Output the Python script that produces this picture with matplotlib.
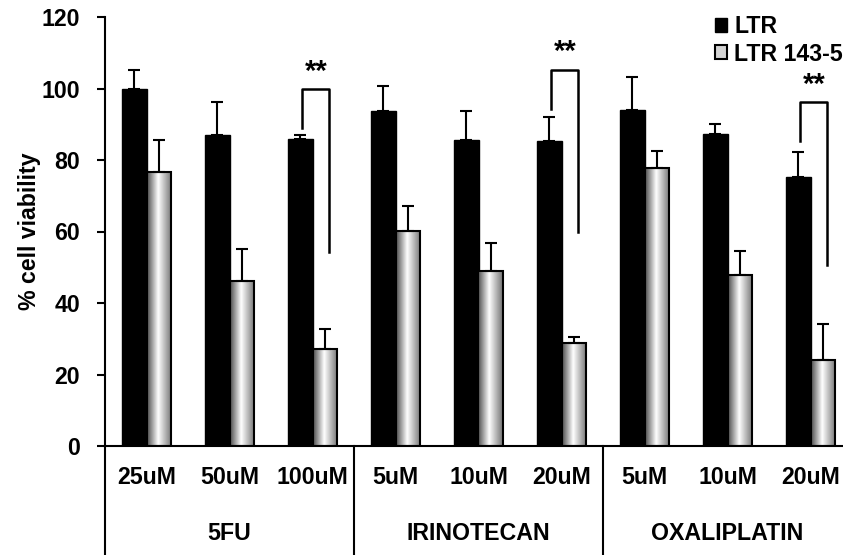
import numpy as np
import matplotlib
matplotlib.use('Agg')
import matplotlib.pyplot as plt
from matplotlib.patches import Patch
from matplotlib.colors import LinearSegmentedColormap

plt.rcParams['font.family'] = ['Liberation Sans', 'DejaVu Sans']
plt.rcParams['font.weight'] = 'bold'

# dados
doses = ['25uM', '50uM', '100uM', '5uM', '10uM', '20uM', '5uM', '10uM', '20uM']
drogas = ['5FU', 'IRINOTECAN', 'OXALIPLATIN']
ltr = [99.9, 87.0, 85.8, 93.7, 85.6, 85.3, 94.0, 87.3, 75.3]
ltr_err = [5.3, 9.3, 1.1, 7.0, 8.2, 6.6, 9.1, 2.8, 6.9]
ltr143 = [76.7, 46.2, 27.0, 60.1, 49.0, 28.7, 77.7, 47.8, 24.1]
ltr143_err = [8.9, 8.9, 5.6, 7.1, 7.9, 1.9, 4.9, 6.8, 9.9]

# colchetes de significancia: (indice, topo, perna esquerda, perna direita)
sig_idx = [2, 5, 8]
sig_top = [99.8, 105.2, 96.1]
sig_left = [88.9, 94.3, 85.3]
sig_right = [54.2, 59.8, 50.6]

fs = 16.7
fig = plt.figure(figsize=(8.43, 5.55), dpi=100)
W, H = 843, 555
x0, y_top, y_zero = 105, 17, 446
slot = 83
ax = fig.add_axes([x0 / W, 1 - y_zero / H, (W - x0) / W, (y_zero - y_top) / H])

x = np.arange(len(doses))
w = 0.29
ax.bar(x - w / 2, ltr, w, color='black', edgecolor='black', linewidth=1, zorder=2)
barras = ax.bar(x + w / 2, ltr143, w, color='none', edgecolor='black', linewidth=1.5, zorder=3)

# gradiente horizontal das barras cinzas
cmap = LinearSegmentedColormap.from_list('grad', [(0, (0.3,) * 3), (0.45, (1, 1, 1)), (1, (0.45,) * 3)])
grad = np.linspace(0, 1, 100).reshape(1, -1)
for b in barras:
    im = ax.imshow(grad, cmap=cmap, aspect='auto', zorder=2.5,
                   extent=[b.get_x(), b.get_x() + b.get_width(), 0, b.get_height()])
    im.set_clip_path(b)

ax.errorbar(x - w / 2, ltr, yerr=[np.zeros(9), ltr_err], fmt='none', ecolor='black',
            elinewidth=1.5, capsize=4, capthick=1.5, zorder=4)
ax.errorbar(x + w / 2, ltr143, yerr=[np.zeros(9), ltr143_err], fmt='none', ecolor='black',
            elinewidth=1.5, capsize=4, capthick=1.5, zorder=4)

for i, t, l, r in zip(sig_idx, sig_top, sig_left, sig_right):
    ax.plot([i - w / 2 + 0.02, i - w / 2 + 0.02, i + w / 2 + 0.05, i + w / 2 + 0.05],
            [l, t, t, r], color='black', lw=1.8, zorder=5)
    ax.text(i + 0.05, t + 1.0, '**', ha='center', va='bottom', fontsize=21, fontweight='bold')

ax.set_ylim(0, 120)
ax.set_xlim(-0.5, -0.5 + (W - x0) / slot)
ax.set_yticks([0, 20, 40, 60, 80, 100, 120])
ax.tick_params(axis='y', direction='out', length=6, width=1.5, pad=12, labelsize=fs)
ax.set_xticks([])
for s in ['top', 'right']:
    ax.spines[s].set_visible(False)
ax.spines['left'].set_linewidth(1.5)
ax.spines['bottom'].set_linewidth(1.5)
ax.set_ylabel('% cell viability', fontsize=fs, fontweight='bold', labelpad=0)

# rotulos de categoria em dois niveis
trans = ax.get_xaxis_transform()
for i, d in enumerate(doses):
    ax.text(i, -32 / (y_zero - y_top), d, transform=trans, ha='center', va='center', fontsize=fs)
for g, nome in enumerate(drogas):
    ax.text(3 * g + 1, -88 / (y_zero - y_top), nome, transform=trans, ha='center', va='center', fontsize=fs)
for xs in [-0.5, 2.5, 5.5]:
    ax.plot([xs, xs], [0, -0.3], transform=trans, color='black', lw=1.5, clip_on=False)

handles = [Patch(facecolor='black', edgecolor='black'),
           Patch(facecolor='#d4d4d4', edgecolor='black', linewidth=1.5)]
ax.legend(handles, ['LTR', 'LTR 143-5'], loc='upper right', bbox_to_anchor=(843 / W, 1 - 15 / H),
          bbox_transform=fig.transFigure, frameon=False, fontsize=fs, handlelength=0.55,
          handleheight=0.55, handletextpad=0.3, labelspacing=0.2, borderpad=0, borderaxespad=0)

plt.savefig('out.png', dpi=100)
